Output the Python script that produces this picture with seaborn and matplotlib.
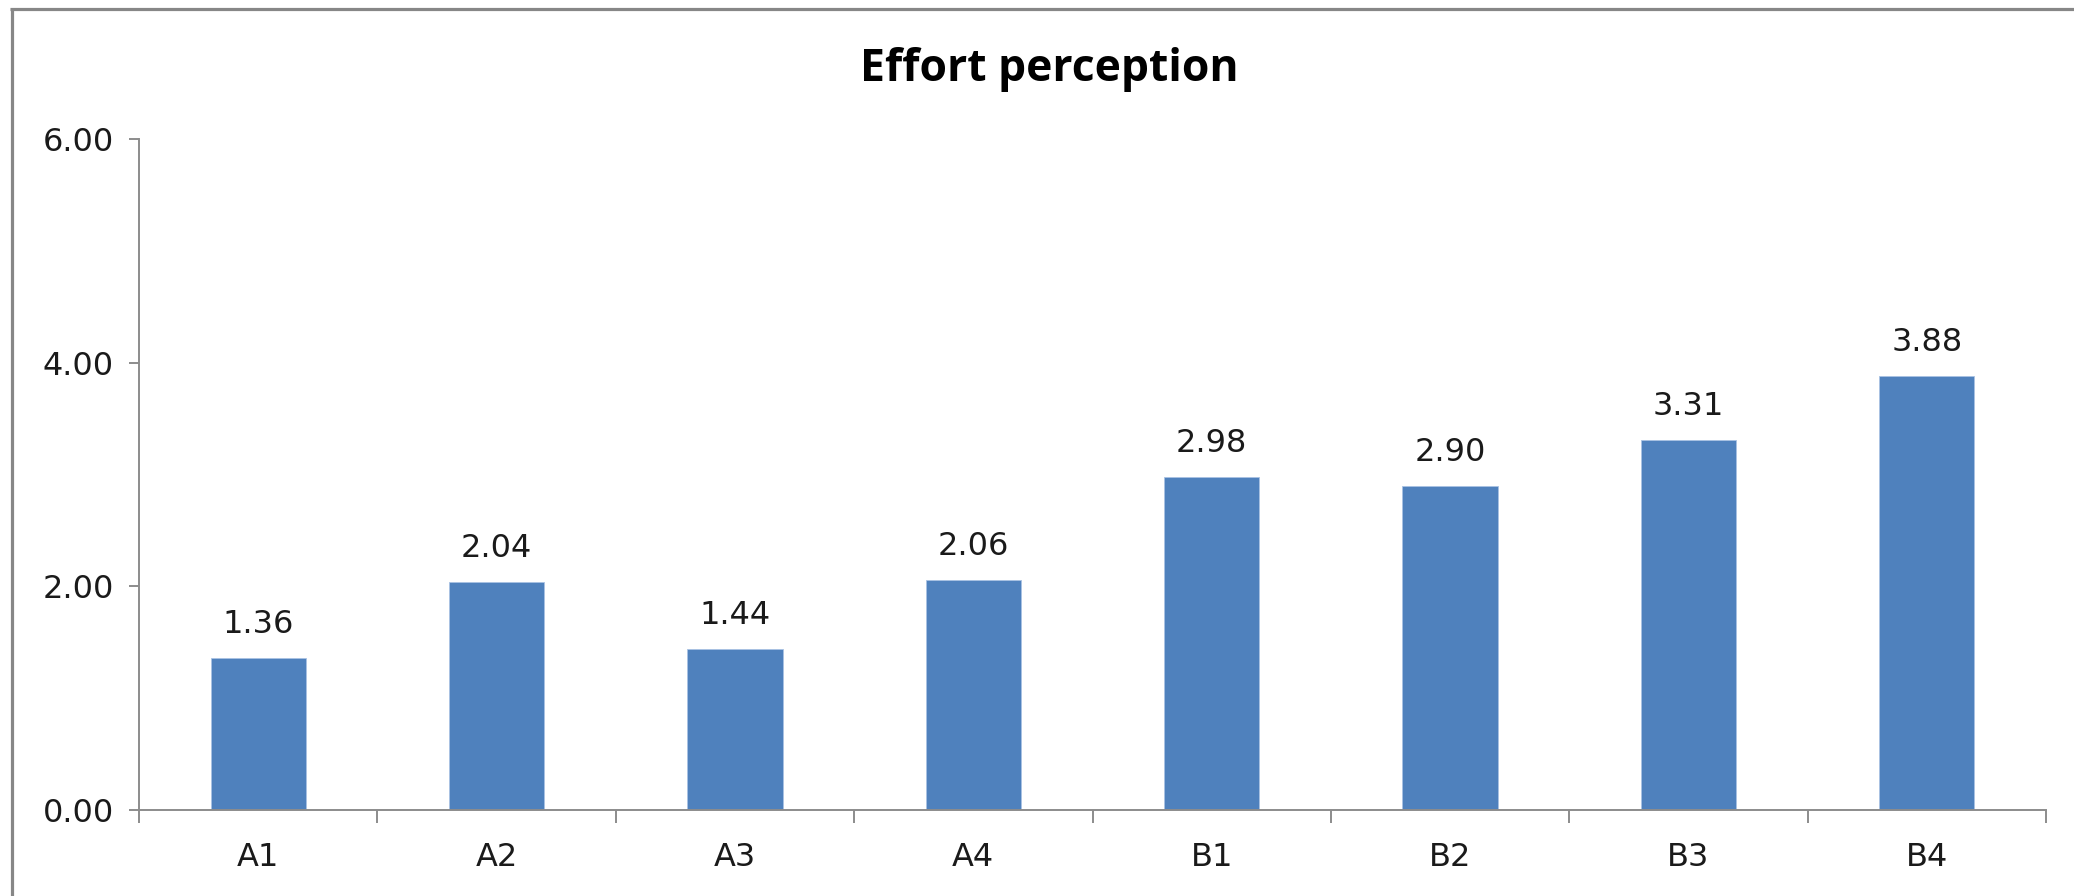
import matplotlib
matplotlib.use("Agg")
import matplotlib.pyplot as plt
from matplotlib.lines import Line2D
from matplotlib.ticker import FixedLocator, FuncFormatter
import seaborn as sns
import pandas as pd

# Data
categories = ["A1", "A2", "A3", "A4", "B1", "B2", "B3", "B4"]
effort = [1.36, 2.04, 1.44, 2.06, 2.98, 2.90, 3.31, 3.88]
y_ticks = [0, 2, 4, 6]
title = "Effort perception"

sns.set_theme(style="white")
plt.rcParams["font.family"] = ["DejaVu Sans"]

df = pd.DataFrame({"group": categories, "effort": effort})

W, H, DPI = 2074, 896, 100
fig = plt.figure(figsize=(W / DPI, H / DPI), dpi=DPI)
ax = fig.add_axes([139 / W, 1 - 810 / H, (2046 - 139) / W, (810 - 139) / H])

bar_color = "#4F81BD"
axis_color = "#8C8C8C"
text_color = "#1a1a1a"
fs = 23

sns.barplot(data=df, x="group", y="effort", color=bar_color, width=0.4,
            saturation=1, ax=ax, edgecolor="#A9C2E3", linewidth=0.6)

ax.set_xlim(-0.5, len(categories) - 0.5)
ax.set_ylim(0, 6)
ax.set_xlabel("")
ax.set_ylabel("")

# spines
for side in ("top", "right"):
    ax.spines[side].set_visible(False)
for side in ("left", "bottom"):
    ax.spines[side].set_color(axis_color)
    ax.spines[side].set_linewidth(1.4)

# y axis
ax.yaxis.set_major_locator(FixedLocator(y_ticks))
ax.yaxis.set_major_formatter(FuncFormatter(lambda v, p: f"{v:.2f}"))
ax.tick_params(axis="y", which="major", direction="out", length=7, width=1.4,
               color=axis_color, left=True, pad=11, labelsize=fs, labelcolor=text_color)

# x axis: labels at centers, tick marks at category boundaries
ax.set_xticks(range(len(categories)))
ax.set_xticklabels(categories)
ax.set_xticks([i - 0.5 for i in range(len(categories) + 1)], minor=True)
ax.tick_params(axis="x", which="major", length=0, pad=23, labelsize=fs, labelcolor=text_color)
ax.tick_params(axis="x", which="minor", direction="out", length=9, width=1.4,
               color=axis_color, bottom=True)

# value labels
for i, v in enumerate(effort):
    ax.annotate(f"{v:.2f}", xy=(i, v), xytext=(0, 24), textcoords="offset points",
                ha="center", va="center", fontsize=fs, color=text_color)

# title
fig.text(1049 / W, 1 - 70 / H, title, ha="center", va="center",
         fontsize=32, fontweight="bold", family=["Open Sans", "DejaVu Sans"], color="black")

# chart frame
frame_color = "#878787"
fig.add_artist(Line2D([10 / W, 1], [1 - 9.5 / H, 1 - 9.5 / H], transform=fig.transFigure,
                      color=frame_color, linewidth=2.3, solid_capstyle="butt"))
fig.add_artist(Line2D([11.5 / W, 11.5 / W], [0, 1 - 8 / H], transform=fig.transFigure,
                      color=frame_color, linewidth=2.3, solid_capstyle="butt"))

fig.savefig("out.png", dpi=DPI, facecolor="white")
